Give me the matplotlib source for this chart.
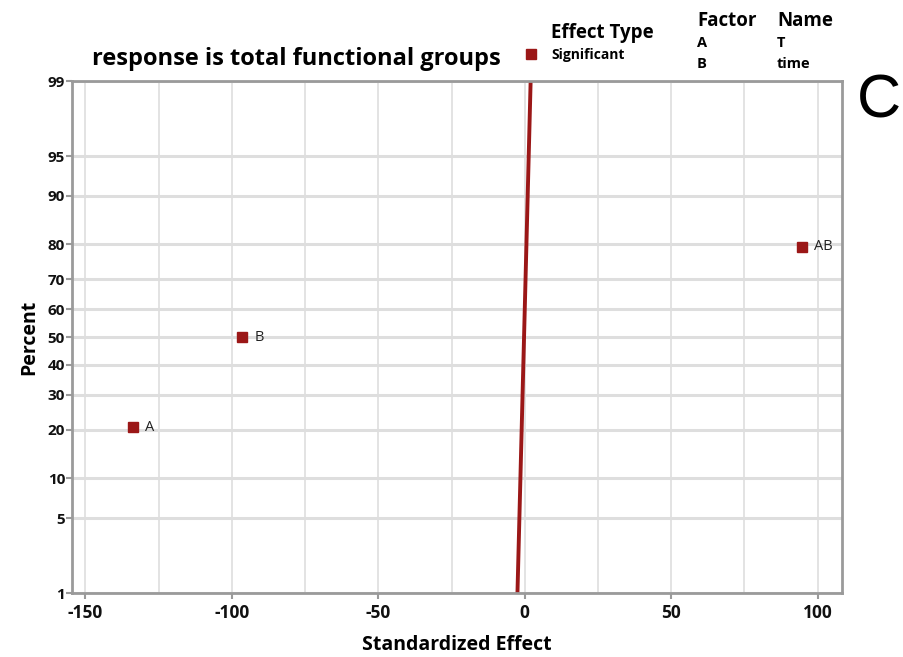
import numpy as np
import matplotlib
matplotlib.use("Agg")
import matplotlib.pyplot as plt
from statistics import NormalDist

# 數據
effect_terms = ["A", "B", "AB"]
effect_values = [-133.8, -96.6, 94.6]
effect_percents = [20.6, 50.0, 79.4]
ref_line_percents = [1, 99]
ref_line_x = [-2.5, 2.0]
y_tick_percents = [1, 5, 10, 20, 30, 40, 50, 60, 70, 80, 90, 95, 99]
x_ticks = [-150, -100, -50, 0, 50, 100]
x_grid = [-150, -125, -100, -75, -50, -25, 0, 25, 50, 75, 100]
factor_codes = ["A", "B"]
factor_names = ["T", "time"]

plt.rcParams['font.family'] = ['Open Sans', 'DejaVu Sans']

nd = NormalDist()


def to_z(p):
    return [nd.inv_cdf(v / 100.0) for v in p]


dark_red = '#9b1717'
spine_gray = '#9a9a9a'
grid_gray = '#dedede'

fig = plt.figure(figsize=(9.04, 6.57), dpi=100)
ax = fig.add_axes([0.0796, 0.0974, 0.8518, 0.7793])

# 網格
for gx in x_grid:
    ax.axvline(gx, color=grid_gray, lw=1.2, zorder=0)
for gy in to_z(y_tick_percents):
    ax.axhline(gy, color=grid_gray, lw=2.2, zorder=0)

# 參考線
ax.plot(ref_line_x, to_z(ref_line_percents), color=dark_red, lw=2.8, zorder=2)

# 效應點
ax.plot(effect_values, to_z(effect_percents), 's', color=dark_red,
        markersize=7.5, zorder=3)
for term, xv, zv in zip(effect_terms, effect_values, to_z(effect_percents)):
    ax.annotate(term, (xv, zv), xytext=(9, 0), textcoords='offset points',
                va='center', ha='left', fontsize=10.5, color='#222222')

ax.set_xlim(-154.6, 108.3)
ax.set_ylim(nd.inv_cdf(0.01), nd.inv_cdf(0.99))
ax.set_xticks(x_ticks)
ax.set_xticklabels([str(v) for v in x_ticks], fontsize=12.5, fontweight='bold')
ax.set_yticks(to_z(y_tick_percents))
ax.set_yticklabels([str(v) for v in y_tick_percents], fontsize=11, fontweight='bold')
ax.tick_params(axis='both', colors=spine_gray, length=4, width=1.5,
               labelcolor='#111111')
ax.tick_params(axis='x', pad=4)
ax.tick_params(axis='y', pad=1)

for s in ax.spines.values():
    s.set_color(spine_gray)
    s.set_linewidth(2)

ax.set_xlabel('Standardized Effect', fontsize=14, fontweight='bold', labelpad=9)
ax.set_ylabel('Percent', fontsize=14, fontweight='bold', labelpad=6)

# 標題與圖例
fig.text(296 / 904, 1 - 59 / 657, 'response is total functional groups',
         ha='center', va='center', fontsize=17, fontweight='bold')

fig.lines.append(plt.Line2D([531 / 904], [1 - 54 / 657], marker='s', color=dark_red,
                            markersize=7, transform=fig.transFigure))
fig.text(551 / 904, 1 - 33 / 657, 'Effect Type', ha='left', va='center',
         fontsize=13.5, fontweight='bold')
fig.text(551 / 904, 1 - 55 / 657, 'Significant', ha='left', va='center',
         fontsize=10, fontweight='bold')

fig.text(697 / 904, 1 - 21 / 657, 'Factor', ha='left', va='center',
         fontsize=13.5, fontweight='bold')
fig.text(777 / 904, 1 - 21 / 657, 'Name', ha='left', va='center',
         fontsize=13.5, fontweight='bold')
for i, (code, name) in enumerate(zip(factor_codes, factor_names)):
    yy = 1 - (43 + 21 * i) / 657
    fig.text(697 / 904, yy, code, ha='left', va='center', fontsize=10.5, fontweight='bold')
    fig.text(777 / 904, yy, name, ha='left', va='center', fontsize=10.5, fontweight='bold')

fig.text(879 / 904, 1 - 102 / 657, 'C', ha='center', va='center',
         fontsize=44, family='Liberation Sans')

fig.savefig('out.png', dpi=100)
plt.close(fig)
